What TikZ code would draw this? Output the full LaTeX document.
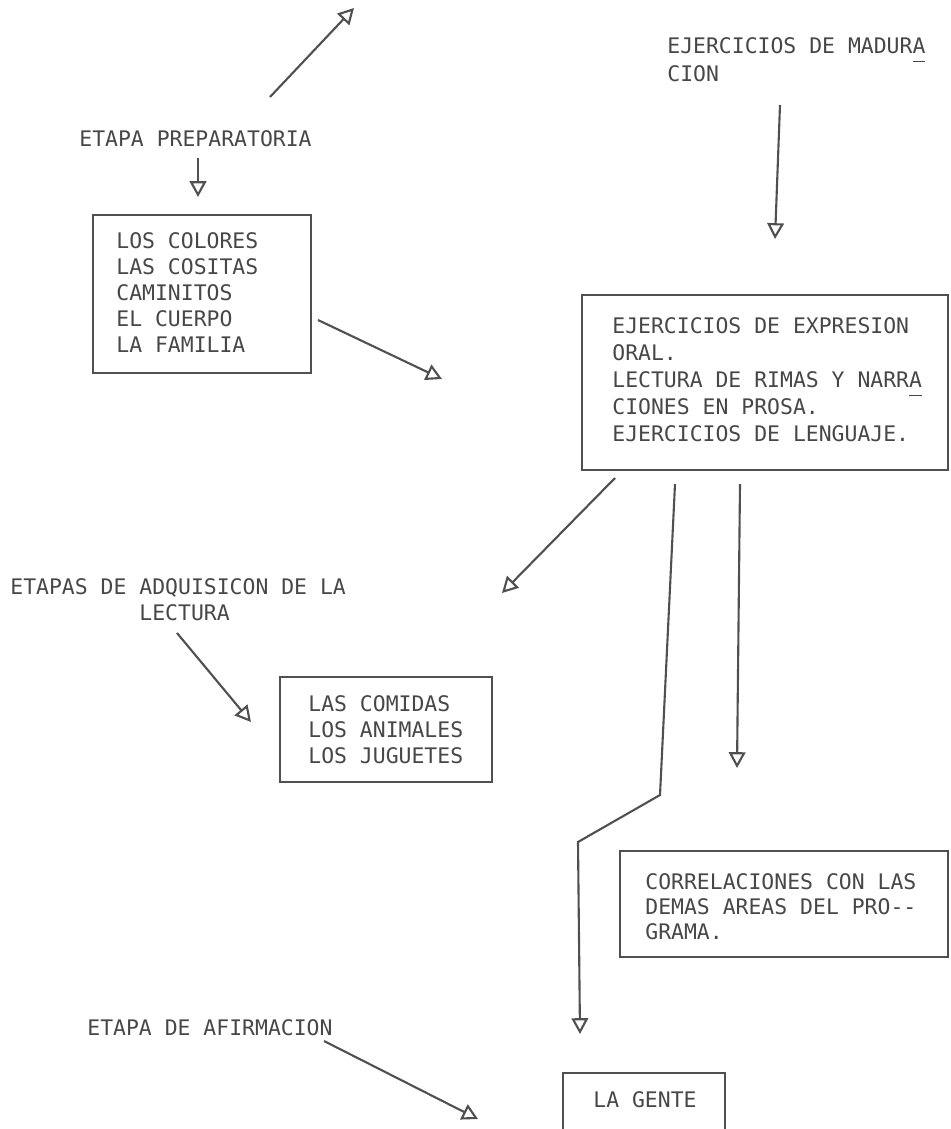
\documentclass[tikz,border=0pt]{standalone}
\usepackage{fontspec}
\newfontfamily\maquina{DejaVu Sans Mono}
\usetikzlibrary{arrows.meta}
\definecolor{tinta}{HTML}{474747}
\definecolor{trazo}{HTML}{505050}
\newcommand{\rayita}[1]{\rlap{\raisebox{-5pt}{\rule{0.6em}{0.6pt}}}#1}
\begin{document}
\begin{tikzpicture}[x=0.02cm, y=-0.02cm,
	texto/.style={anchor=north west, inner sep=0pt, align=left, text=tinta,
		font=\maquina\fontsize{12.2}{14.8}\selectfont},
	caja/.style={draw=trazo, line width=0.75pt},
	flecha/.style={draw=trazo, line width=1.2pt, -{Triangle[open, length=9pt, width=9.5pt]}}]
	\useasboundingbox (0,0) rectangle (950,1129);

	\coordinate (a1) at (270,97);  \coordinate (b1) at (354,8);
	\draw[flecha] (a1) -- (b1);

	\node[texto] (madur) at (667,37) {EJERCICIOS DE MADUR\rayita{A}\\[1.1pt]CION};

	\node[texto] (prep) at (79,130) {ETAPA PREPARATORIA};
	\coordinate (a2) at (198,158); \coordinate (b2) at (198,197);
	\draw[flecha] (a2) -- (b2);

	\draw[caja] (93,215) rectangle (311,373);
	\node[texto] (temas) at (116,232) {LOS COLORES\\LAS COSITAS\\CAMINITOS\\EL CUERPO\\LA FAMILIA};
	\coordinate (a3) at (318,320); \coordinate (b3) at (442,379);
	\draw[flecha] (a3) -- (b3);

	\coordinate (a4) at (780,105); \coordinate (b4) at (775,239);
	\draw[flecha] (a4) -- (b4);

	\draw[caja] (582,295) rectangle (948,470);
	\node[texto, font=\maquina\fontsize{12.2}{15.4}\selectfont] (expr) at (612,317)
		{EJERCICIOS DE EXPRESION\\ORAL.\\LECTURA DE RIMAS Y NARR\rayita{A}\\CIONES EN PROSA.\\EJERCICIOS DE LENGUAJE.};

	\coordinate (a5) at (615,478); \coordinate (b5) at (502,593);
	\draw[flecha] (a5) -- (b5);
	\node[texto] (adqui) at (10,578) {ETAPAS DE ADQUISICON DE LA\\\phantom{XXXXXXXXXX}LECTURA};
	\coordinate (a8) at (177,633); \coordinate (b8) at (251,722);
	\draw[flecha] (a8) -- (b8);

	\draw[caja] (280,677) rectangle (492,782);
	\node[texto] (comid) at (308,695) {LAS COMIDAS\\LOS ANIMALES\\LOS JUGUETES};

	\coordinate (a6) at (675,484); \coordinate (c6) at (660,795);
	\coordinate (d6) at (578,842); \coordinate (b6) at (580,1034);
	\draw[flecha] (a6) -- (c6) -- (d6) -- (b6);

	\coordinate (a7) at (740,484); \coordinate (b7) at (737,768);
	\draw[flecha] (a7) -- (b7);

	\draw[caja] (620,851) rectangle (948,957);
	\node[texto, font=\maquina\fontsize{12.2}{14.3}\selectfont] (corr) at (645,873)
		{CORRELACIONES CON LAS\\DEMAS AREAS DEL PRO--\\GRAMA.};

	\node[texto] (afirm) at (87,1019) {ETAPA DE AFIRMACION};
	\coordinate (a9) at (324,1041); \coordinate (b9) at (478,1119);
	\draw[flecha] (a9) -- (b9);

	\draw[caja] (563,1073) rectangle (725,1135);
	\node[texto] (gente) at (593,1091) {LA GENTE};
\end{tikzpicture}
\end{document}
